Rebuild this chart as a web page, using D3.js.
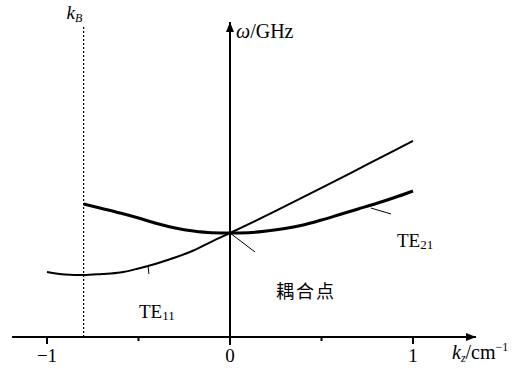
<!DOCTYPE html>
<html>
<head>
<meta charset="utf-8">
<script src="https://cdn.jsdelivr.net/npm/d3@7"></script>
<style>
  html, body { margin: 0; padding: 0; background: #fff; }
  svg { display: block; }
  text { font-family: "Liberation Serif", "DejaVu Serif", serif; fill: #000; }
  .cjk { font-family: "Noto Sans CJK SC", sans-serif; }
</style>
</head>
<body>
<svg id="chart" width="523" height="369"></svg>
<script>
// Dispersion curves: wavenumber k_z (1/cm) vs frequency ω (GHz)
const kTE11 = [-1, -0.9, -0.8, -0.7, -0.6, -0.5, -0.4, -0.3, -0.2, -0.1, 0, 0.25, 0.5, 0.75, 1];
const wTE11 = [6.25, 6.01, 5.96, 6.06, 6.20, 6.59, 7.07, 7.64, 8.32, 9.18, 10.0, 12.12, 14.33, 16.59, 18.85];

const kTE21 = [-0.8, -0.7, -0.6, -0.5, -0.4, -0.3, -0.2, -0.1, 0, 0.1, 0.2, 0.3, 0.4, 0.5, 0.6, 0.7, 0.8, 0.9, 1];
const wTE21 = [12.79, 12.36, 11.92, 11.44, 10.91, 10.48, 10.19, 10.03, 10.0, 10.03, 10.19, 10.43, 10.77, 11.25, 11.78, 12.31, 12.84, 13.41, 14.04];

const kB = -0.8;                       // Bragg wavenumber marker
const majorTicks = [-1, 0, 1];
const majorTickLabels = ["\u22121", "0", "1"];
const minorTicks = [-0.5, 0.5];

// Label leader lines [k0, ω0, k1, ω1]
const leaderTE11 = [-0.448, 6.83, -0.443, 6.06];
const leaderTE21 = [0.77, 12.4, 0.88, 11.83];
const leaderCoupling = [0, 10.0, 0.137, 8.17];

const svg = d3.select("#chart");
const x = d3.scaleLinear().domain([-1, 1]).range([47, 413]);
const y = d3.scaleLinear().domain([0, 30]).range([337, 25]);

// Arrowheads
const defs = svg.append("defs");
defs.append("marker").attr("id", "arrow").attr("viewBox", "0 0 10 8")
  .attr("refX", 10).attr("refY", 4).attr("markerWidth", 10).attr("markerHeight", 8)
  .attr("markerUnits", "userSpaceOnUse").attr("orient", "auto")
  .append("path").attr("d", "M0,0 L10,4 L0,8 Z").attr("fill", "#000");

// x axis
svg.append("line").attr("x1", 12).attr("x2", 476).attr("y1", y(0)).attr("y2", y(0))
  .attr("stroke", "#000").attr("stroke-width", 2).attr("marker-end", "url(#arrow)");
// y axis
svg.append("line").attr("x1", x(0)).attr("x2", x(0)).attr("y1", y(0) + 8).attr("y2", 22)
  .attr("stroke", "#000").attr("stroke-width", 2).attr("marker-end", "url(#arrow)");

svg.selectAll(".major").data(majorTicks).join("line")
  .attr("x1", d => x(d)).attr("x2", d => x(d)).attr("y1", y(0)).attr("y2", y(0) + 7)
  .attr("stroke", "#000").attr("stroke-width", 2);
svg.selectAll(".minor").data(minorTicks).join("line")
  .attr("x1", d => x(d)).attr("x2", d => x(d)).attr("y1", y(0)).attr("y2", y(0) + 4)
  .attr("stroke", "#000").attr("stroke-width", 2);

svg.selectAll(".ticklabel").data(majorTicks).join("text")
  .attr("x", d => x(d)).attr("y", 362).attr("text-anchor", "middle")
  .attr("font-size", 19).text((d, i) => majorTickLabels[i]);

// k_B dotted marker
svg.append("line").attr("x1", x(kB)).attr("x2", x(kB)).attr("y1", 27).attr("y2", y(0))
  .attr("stroke", "#000").attr("stroke-width", 1.2).attr("stroke-dasharray", "2,2");
const kBLabel = svg.append("text").attr("x", x(kB) - 17).attr("y", 19).attr("font-size", 19);
kBLabel.append("tspan").attr("font-style", "italic").text("k");
kBLabel.append("tspan").attr("font-style", "italic").attr("font-size", 12).attr("dy", 3).text("B");

// Axis titles
const wLabel = svg.append("text").attr("x", x(0) + 6).attr("y", 38).attr("font-size", 20);
wLabel.append("tspan").attr("font-style", "italic").text("\u03c9");
wLabel.append("tspan").text("/GHz");

const kLabel = svg.append("text").attr("x", 452).attr("y", 359).attr("font-size", 20);
kLabel.append("tspan").attr("font-style", "italic").text("k");
kLabel.append("tspan").attr("font-style", "italic").attr("font-size", 12).attr("dy", 3).text("z");
kLabel.append("tspan").attr("dy", -3).text("/cm");
kLabel.append("tspan").attr("font-size", 12).attr("dy", -8).text("\u22121");

// Curves
const line = d3.line().x(d => x(d[0])).y(d => y(d[1])).curve(d3.curveMonotoneX);
svg.append("path").datum(d3.zip(kTE11, wTE11)).attr("d", line)
  .attr("fill", "none").attr("stroke", "#000").attr("stroke-width", 2);
svg.append("path").datum(d3.zip(kTE21, wTE21)).attr("d", line)
  .attr("fill", "none").attr("stroke", "#000").attr("stroke-width", 3);

// Leaders
[leaderTE11, leaderTE21, leaderCoupling].forEach(l => {
  svg.append("line").attr("x1", x(l[0])).attr("y1", y(l[1])).attr("x2", x(l[2])).attr("y2", y(l[3]))
    .attr("stroke", "#000").attr("stroke-width", 1);
});

// Mode labels
function modeLabel(px, py, sub) {
  const t = svg.append("text").attr("x", px).attr("y", py).attr("font-size", 19);
  t.append("tspan").text("TE");
  t.append("tspan").attr("font-size", 13).attr("dy", 2).text(sub);
}
modeLabel(139, 318, "11");
modeLabel(397, 247, "21");

svg.append("text").attr("class", "cjk").attr("x", 276).attr("y", 298)
  .attr("font-size", 18).attr("letter-spacing", 2).text("耦合点");
</script>
</body>
</html>
